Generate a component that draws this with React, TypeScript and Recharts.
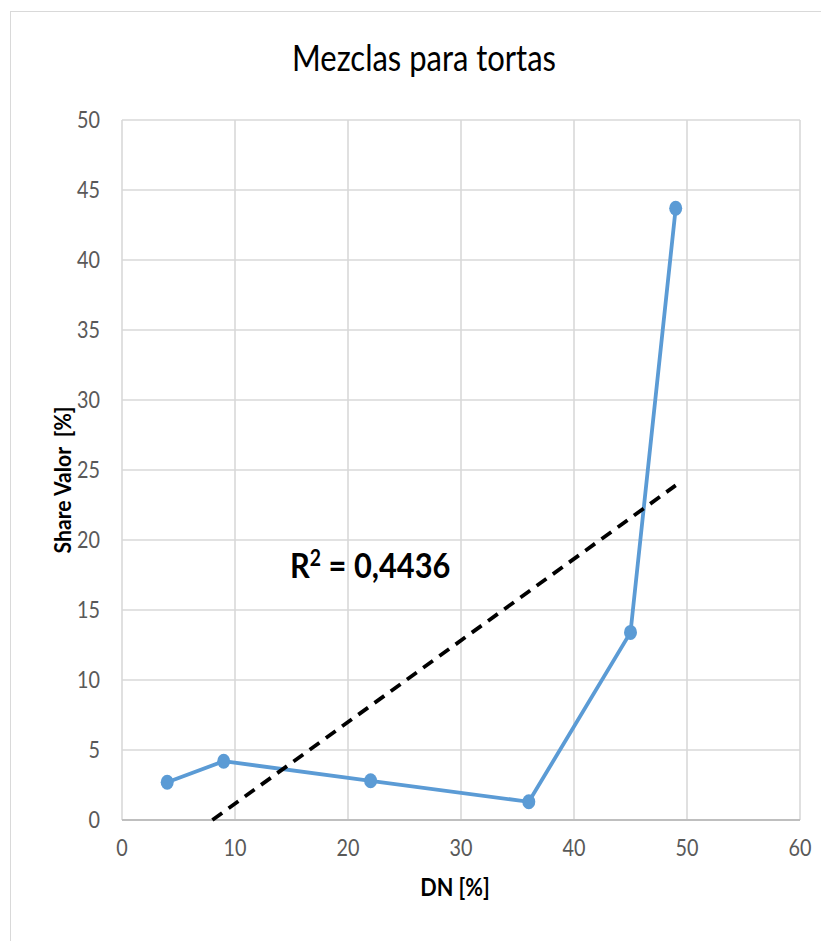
import { ScatterChart, Scatter, XAxis, YAxis, CartesianGrid } from 'recharts';

const dnValues = [4, 9, 22, 36, 45, 49];
const shareValues = [2.7, 4.2, 2.8, 1.3, 13.4, 43.7];
const trendDn = [8, 49];
const trendShare = [0, 23.9];
const xTicks = [0, 10, 20, 30, 40, 50, 60];
const yTicks = [0, 5, 10, 15, 20, 25, 30, 35, 40, 45, 50];

const FONT = 'Lato, "Open Sans", sans-serif';

const points = dnValues.map((x, i) => ({ x, y: shareValues[i] }));
const trend = trendDn.map((x, i) => ({ x, y: trendShare[i] }));

// Calibri is narrower than anything installed, so squeeze text a little horizontally
function NarrowTick(props: any) {
  const { x, y, payload, textAnchor } = props;
  return (
    <text
      transform={`translate(${x},${y}) scale(0.86,1)`}
      textAnchor={textAnchor}
      dy="0.355em"
      fill="#595959"
      fontSize={23}
      fontFamily={FONT}
    >
      {payload.value}
    </text>
  );
}

export default function App() {
  return (
    <div style={{ position: 'relative', width: 821, height: 941, overflow: 'hidden', background: '#fff', fontFamily: FONT }}>
      <style>{'body{margin:0;overflow:hidden}'}</style>
      <div
        style={{
          position: 'absolute',
          left: 10,
          top: 11,
          width: 840,
          height: 960,
          border: '1px solid #d9d9d9',
        }}
      />
      <div style={{ position: 'absolute', left: 0, top: 35, width: 848, textAlign: 'center', fontSize: 36, color: '#000', transform: 'scaleX(0.86)' }}>
        Mezclas para tortas
      </div>
      <div style={{ position: 'absolute', left: 0, top: 0 }}>
        <ScatterChart width={821} height={941} margin={{ top: 120, right: 21, bottom: 61, left: 0 }}>
          <CartesianGrid stroke="#d9d9d9" strokeWidth={1.6} />
          <XAxis
            type="number"
            dataKey="x"
            domain={[0, 60]}
            ticks={xTicks}
            height={60}
            axisLine={{ stroke: '#bfbfbf', strokeWidth: 2 }}
            tickLine={false}
            tickSize={0}
            tickMargin={28}
            tick={<NarrowTick />}
          />
          <YAxis
            type="number"
            dataKey="y"
            domain={[0, 50]}
            ticks={yTicks}
            width={122}
            axisLine={false}
            tickLine={false}
            tickSize={0}
            tickMargin={22}
            tick={<NarrowTick />}
          />
          <Scatter
            data={points}
            fill="#5b9bd5"
            line={{ stroke: '#5b9bd5', strokeWidth: 3.8 }}
            shape={(p: any) => <ellipse cx={p.cx} cy={p.cy} rx={6.5} ry={7.5} fill="#5b9bd5" />}
            isAnimationActive={false}
          />
          <Scatter
            data={trend}
            line={{ stroke: '#000', strokeWidth: 3.8, strokeDasharray: '12 8' }}
            shape={() => <g />}
            isAnimationActive={false}
          />
        </ScatterChart>
      </div>
      <div style={{ position: 'absolute', left: 0, top: 872, width: 910, textAlign: 'center', fontSize: 24, fontWeight: 'bold', color: '#000', transform: 'scaleX(0.9)' }}>
        DN [%]
      </div>
      <div
        style={{
          position: 'absolute',
          left: 62,
          top: 480,
          transform: 'translate(-50%, -50%) rotate(-90deg) scaleX(0.92)',
          whiteSpace: 'nowrap',
          fontSize: 23,
          fontWeight: 'bold',
          color: '#000',
        }}
      >
        Share Valor&nbsp;&nbsp;[%]
      </div>
      <div
        style={{
          position: 'absolute',
          left: 290,
          top: 543,
          fontSize: 35,
          fontWeight: 'bold',
          color: '#000',
          whiteSpace: 'nowrap',
          transform: 'scaleX(0.88)',
          transformOrigin: 'left center',
        }}
      >
        R<sup style={{ fontSize: 22, verticalAlign: 'top', position: 'relative', top: 1 }}>2</sup> = 0,4436
      </div>
    </div>
  );
}
